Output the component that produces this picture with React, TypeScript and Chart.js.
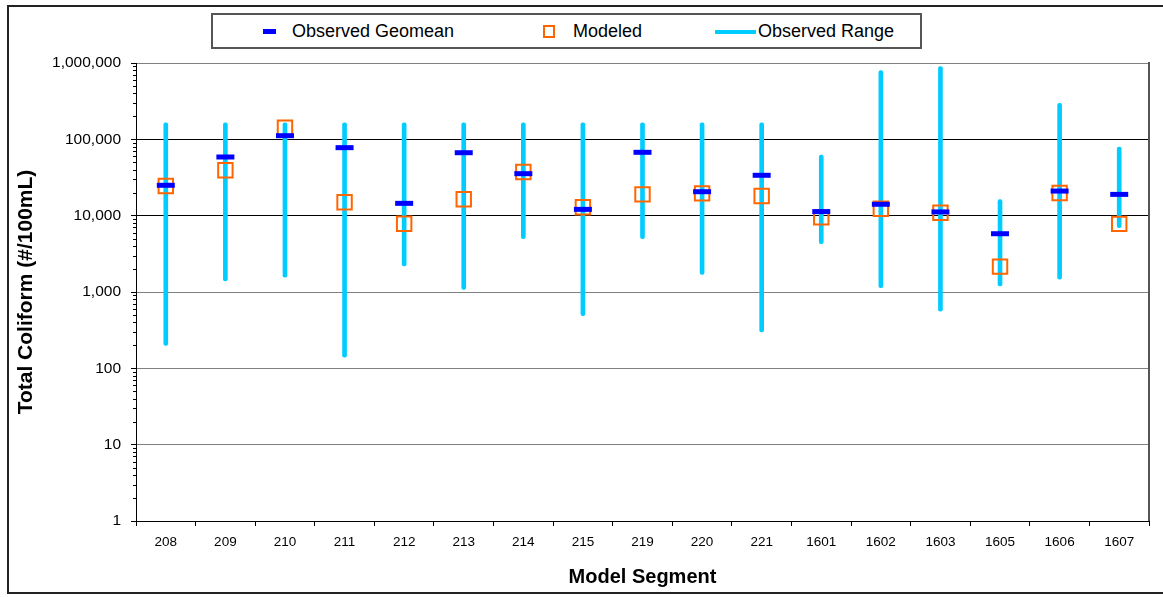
import React, { useEffect, useRef } from 'react';
import { Chart, registerables } from 'chart.js';

Chart.register(...registerables);

// ---------- data ----------
const categories = ['208', '209', '210', '211', '212', '213', '214', '215', '219', '220', '221', '1601', '1602', '1603', '1605', '1606', '1607'];
const observedGeomean = [25000, 58700, 111600, 77800, 14500, 66800, 35500, 12100, 67600, 20600, 33800, 11300, 14100, 11200, 5800, 21000, 19000];
const modeled = [24500, 39300, 142000, 15000, 7850, 16400, 37300, 12900, 19000, 19600, 18100, 9500, 12300, 10900, 2150, 19800, 7800];
const rangeMin = [200, 1400, 1570, 140, 2200, 1080, 5000, 490, 5000, 1700, 300, 4300, 1140, 560, 1200, 1470, 6960];
const rangeMax = [165000, 165000, 165000, 165000, 165000, 165000, 165000, 165000, 165000, 165000, 165000, 62300, 794000, 895000, 16200, 296000, 79400];
const yTickValues = [1, 10, 100, 1000, 10000, 100000, 1000000];
const minorMultipliers = [2, 3, 4, 5, 6, 7, 8, 9];

const legendLabels = ['Observed Geomean', 'Modeled', 'Observed Range'];
const yTitle = 'Total Coliform (#/100mL)';
const xTitle = 'Model Segment';

const FONT = "'Liberation Sans', Arial, Helvetica, sans-serif";
const C_GEO = '#0000FF';
const C_MOD = '#FF6600';
const C_RANGE = '#00CCFF';

function withCommas(v: number): string {
  const s = String(Math.round(v));
  return s.replace(/\B(?=(\d{3})+(?!\d))/g, ',');
}

const extrasPlugin = {
  id: 'extras',
  afterDraw(chart: any) {
    const { ctx, chartArea, scales } = chart;
    const y = scales.y;
    ctx.save();
    ctx.strokeStyle = '#000';
    ctx.lineWidth = 1;
    for (let k = 0; k < yTickValues.length - 1; k++) {
      for (const m of minorMultipliers) {
        const v = yTickValues[k] * m;
        const py = Math.round(y.getPixelForValue(v)) + 0.5;
        ctx.beginPath();
        ctx.moveTo(chartArea.left - 3, py);
        ctx.lineTo(chartArea.left, py);
        ctx.stroke();
      }
    }
    ctx.strokeStyle = '#555';
    ctx.lineWidth = 2;
    ctx.beginPath();
    ctx.moveTo(chartArea.right, chartArea.top - 1);
    ctx.lineTo(chartArea.right, chartArea.bottom);
    ctx.stroke();
    ctx.restore();
  },
};

export default function App() {
  const canvasRef = useRef<HTMLCanvasElement | null>(null);

  useEffect(() => {
    document.body.style.margin = '0';
    const canvas = canvasRef.current;
    if (!canvas) return;
    const chart = new Chart(canvas, {
      type: 'bar',
      data: {
        labels: categories,
        datasets: [
          {
            type: 'line',
            label: legendLabels[0],
            data: observedGeomean,
            showLine: false,
            pointStyle: 'line',
            pointRadius: 9,
            pointHoverRadius: 9,
            pointBorderWidth: 5,
            pointHoverBorderWidth: 5,
            borderColor: C_GEO,
            pointBorderColor: C_GEO,
            backgroundColor: C_GEO,
            order: 1,
          } as any,
          {
            type: 'line',
            label: legendLabels[1],
            data: modeled,
            showLine: false,
            pointStyle: 'rect',
            pointRadius: 10.2,
            pointHoverRadius: 10.2,
            pointBorderWidth: 2,
            pointHoverBorderWidth: 2,
            borderColor: C_MOD,
            pointBorderColor: C_MOD,
            pointBackgroundColor: 'rgba(0,0,0,0)',
            backgroundColor: 'rgba(0,0,0,0)',
            order: 2,
          } as any,
          {
            type: 'bar',
            label: legendLabels[2],
            data: categories.map((_, i) => [rangeMin[i], rangeMax[i]]),
            backgroundColor: C_RANGE,
            barThickness: 4,
            borderSkipped: false,
            borderRadius: 2,
            order: 3,
          } as any,
        ],
      },
      options: {
        responsive: false,
        animation: false,
        events: [],
        layout: { padding: { left: 0, top: 63, right: 12, bottom: 4 } },
        plugins: {
          legend: { display: false },
          tooltip: { enabled: false },
        },
        scales: {
          x: {
            type: 'category',
            offset: true,
            afterFit: (s: any) => {
              s.height = 72;
            },
            grid: {
              offset: true,
              drawOnChartArea: false,
              tickLength: 5,
              color: '#000',
            },
            border: { color: '#000', width: 1 },
            ticks: {
              color: '#000',
              font: { family: FONT, size: 13.5 },
              padding: 8,
              maxRotation: 0,
              autoSkip: false,
            },
            title: {
              display: true,
              text: xTitle,
              color: '#000',
              font: { family: FONT, size: 20, weight: 'bold' },
              padding: { top: 0, bottom: 4 },
            },
          },
          y: {
            type: 'logarithmic',
            min: 1,
            max: 1000000,
            afterFit: (s: any) => {
              s.width = 136;
            },
            afterBuildTicks: (s: any) => {
              s.ticks = yTickValues.map((v) => ({ value: v, major: true }));
            },
            grid: {
              color: (ctx: any) => (ctx.tick && ctx.tick.value >= 10000 && ctx.tick.value < 1000000 ? '#000' : '#808080'),
              tickColor: '#000',
              tickLength: 5,
            },
            border: { color: '#000', width: 1 },
            ticks: {
              color: '#000',
              autoSkip: false,
              font: { family: FONT, size: 15.5 },
              padding: 10,
              callback: (v: any) => withCommas(Number(v)),
            },
            title: {
              display: true,
              text: yTitle,
              color: '#000',
              font: { family: FONT, size: 21, weight: 'bold' },
              padding: { top: 14, bottom: 0 },
            },
          },
        },
      },
      plugins: [extrasPlugin],
    } as any);
    return () => chart.destroy();
  }, []);

  const textStyle: React.CSSProperties = {
    position: 'absolute',
    fontFamily: FONT,
    fontSize: 18,
    lineHeight: '20px',
    color: '#000',
    whiteSpace: 'nowrap',
  };

  return (
    <div style={{ position: 'relative', width: 1163, height: 597, overflow: 'hidden', background: '#fff' }}>
      <canvas ref={canvasRef} width={1163} height={597} style={{ position: 'absolute', left: 0, top: 0 }} />
      <div
        style={{
          position: 'absolute',
          left: 7,
          top: 5,
          width: 1180,
          height: 589,
          border: '2px solid #222',
          boxSizing: 'border-box',
          pointerEvents: 'none',
        }}
      />
      <div
        style={{
          position: 'absolute',
          left: 211,
          top: 13,
          width: 711,
          height: 36,
          border: '2px solid #555',
          boxSizing: 'border-box',
          background: '#fff',
        }}
      />
      <div style={{ position: 'absolute', left: 263, top: 29, width: 13, height: 5, background: C_GEO }} />
      <div style={{ ...textStyle, left: 292, top: 21 }}>{legendLabels[0]}</div>
      <div
        style={{
          position: 'absolute',
          left: 543,
          top: 25,
          width: 12,
          height: 13,
          border: `2px solid ${C_MOD}`,
          boxSizing: 'border-box',
        }}
      />
      <div style={{ ...textStyle, left: 573, top: 21 }}>{legendLabels[1]}</div>
      <div style={{ position: 'absolute', left: 715, top: 29.5, width: 41, height: 4, background: C_RANGE }} />
      <div style={{ ...textStyle, left: 758, top: 21 }}>{legendLabels[2]}</div>
    </div>
  );
}
